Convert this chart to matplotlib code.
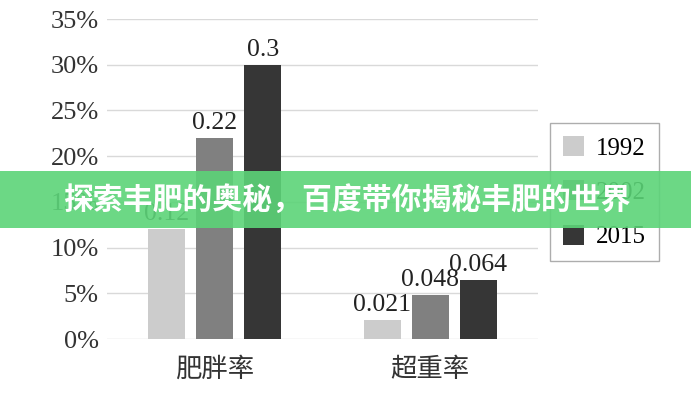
import matplotlib
matplotlib.use("Agg")
import matplotlib.pyplot as plt
from matplotlib.patches import Rectangle
import numpy as np

categories = ["肥胖率", "超重率"]
series = ["1992", "2002", "2015"]
values = {
    "1992": [0.12, 0.021],
    "2002": [0.22, 0.048],
    "2015": [0.3, 0.064],
}
yticks = [0, 0.05, 0.10, 0.15, 0.20, 0.25, 0.30, 0.35]
ytick_labels = ["0%", "5%", "10%", "15%", "20%", "25%", "30%", "35%"]
banner_text = "探索丰肥的奥秘，百度带你揭秘丰肥的世界"

colors = ["#cccccc", "#808080", "#363636"]
serif = ["Liberation Serif", "DejaVu Serif"]
cjk = ["Noto Sans CJK SC", "DejaVu Sans"]

fig = plt.figure(figsize=(6.91, 4.00), dpi=100)
ax = fig.add_axes([107/691, 1-339/400, (538-107)/691, (339-19)/400])

x = np.arange(len(categories))
w = 0.172
off = 0.223
for i, s in enumerate(series):
    b = ax.bar(x + (i-1)*off, values[s], width=w, color=colors[i], label=s, zorder=3)
    ax.bar_label(b, labels=[f"{v:g}" for v in values[s]], padding=3,
                 fontsize=18.5, family=serif, color="#222222")

ax.set_xlim(-0.5, 1.5)
ax.set_ylim(0, 0.35)
ax.set_yticks(yticks)
ax.set_yticklabels(ytick_labels, family=serif, fontsize=19, color="#333333")
ax.set_xticks(x)
ax.set_xticklabels(categories, family=cjk, fontsize=19, color="#333333", fontweight="light")
ax.tick_params(axis="both", length=0)
ax.tick_params(axis="y", pad=6)
ax.tick_params(axis="x", pad=12)
ax.grid(axis="y", color="#d9d9d9", linewidth=1, zorder=0)
ax.set_axisbelow(True)
for sp in ax.spines.values():
    sp.set_visible(False)

leg = ax.legend(loc="upper left", bbox_to_anchor=(550/691, 1-123/400),
                bbox_transform=fig.transFigure, prop={"family": serif, "size": 18},
                frameon=True, fancybox=False, edgecolor="#999999",
                handlelength=0.85, handleheight=0.85, handletextpad=0.45,
                labelspacing=0.83, borderpad=0.52, borderaxespad=0)
leg.get_frame().set_linewidth(1)

fig.add_artist(Rectangle((0, 1-228/400), 1, (228-171)/400, transform=fig.transFigure,
                         facecolor="#5cd478", alpha=0.9, edgecolor="none", zorder=10))
fig.text(347/691, 1-200/400, banner_text, family=cjk, fontsize=21.5, fontweight="bold",
         color="white", ha="center", va="center", zorder=11)

fig.savefig("out.png", dpi=100)
